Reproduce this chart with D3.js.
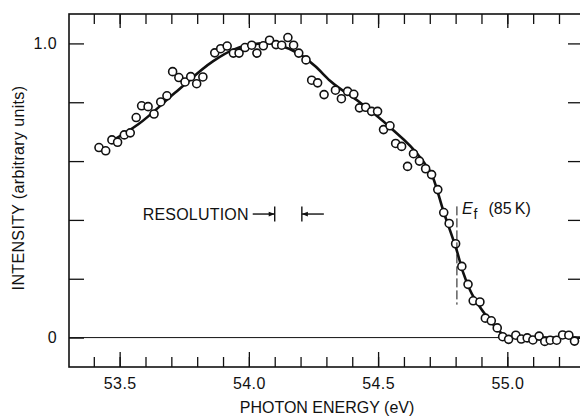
<!DOCTYPE html>
<html>
<head>
<meta charset="utf-8">
<script src="https://cdn.jsdelivr.net/npm/d3@7"></script>
<style>
  body { margin: 0; background: #fff; }
  text { font-family: "Liberation Sans", Arial, sans-serif; fill: #111; }
</style>
</head>
<body>
<div class="canvas"></div>
<script>
// measured spectrum (photon energy in eV, intensity in arbitrary units)
const energy = [
  53.420, 53.446, 53.470, 53.492, 53.518, 53.541, 53.564, 53.585, 53.610, 53.633,
  53.659, 53.683, 53.705, 53.729, 53.753, 53.775, 53.798, 53.822, 53.868, 53.891,
  53.916, 53.940, 53.962, 53.985, 54.011, 54.031, 54.056, 54.080, 54.105, 54.127,
  54.151, 54.173, 54.193, 54.221, 54.243, 54.266, 54.291, 54.335, 54.358, 54.382,
  54.406, 54.428, 54.452, 54.475, 54.498, 54.521, 54.546, 54.568, 54.591, 54.614,
  54.637, 54.660, 54.684, 54.707, 54.731, 54.754, 54.775, 54.800, 54.824, 54.848,
  54.868, 54.894, 54.915, 54.938, 54.961, 54.982, 55.005, 55.033, 55.054, 55.077,
  55.099, 55.123, 55.145, 55.166, 55.191, 55.214, 55.238, 55.260
];
const intensity = [
  0.646, 0.635, 0.672, 0.664, 0.689, 0.696, 0.748, 0.788, 0.785, 0.760,
  0.801, 0.822, 0.904, 0.884, 0.869, 0.887, 0.863, 0.886, 0.968, 0.982,
  0.991, 0.967, 0.967, 0.986, 0.994, 0.967, 0.992, 1.011, 0.996, 0.994,
  1.020, 0.994, 0.967, 0.944, 0.875, 0.866, 0.826, 0.841, 0.812, 0.837,
  0.827, 0.781, 0.783, 0.769, 0.769, 0.707, 0.720, 0.660, 0.650, 0.582,
  0.625, 0.600, 0.574, 0.554, 0.503, 0.425, 0.388, 0.319, 0.242, 0.181,
  0.125, 0.121, 0.066, 0.057, 0.033, 0.003, -0.006, 0.008, -0.005, -0.001,
  -0.008, 0.005, -0.013, -0.009, -0.009, 0.009, 0.008, -0.012
];

// fitted curve
const fitEnergy = [
  53.469, 53.572, 53.714, 53.862, 53.938, 54.004, 54.070, 54.120, 54.198, 54.256,
  54.314, 54.430, 54.546, 54.662, 54.712, 54.752, 54.804, 54.830, 54.856, 54.894,
  54.933, 54.972, 55.010, 55.100, 55.289
];
const fitIntensity = [
  0.668, 0.725, 0.832, 0.940, 0.978, 0.995, 1.001, 0.993, 0.963, 0.923,
  0.873, 0.799, 0.715, 0.613, 0.545, 0.432, 0.297, 0.219, 0.161, 0.104,
  0.058, 0.019, 0.002, 0.0, 0.0
];

const xTicksMajor = [53.5, 54.0, 54.5, 55.0];
const xTicksMinor = d3.range(53.4, 55.3, 0.1).map(d => +d.toFixed(1));
const yTicks = [0, 0.2, 0.4, 0.6, 0.8, 1.0];
const fermiEnergy = 54.805;
const fermiRange = [0.112, 0.446];
const resolution = [54.100, 54.205];
const resolutionLevel = 0.42;

const margin = { top: 14, right: -2, bottom: 49, left: 69 };
const width = 580 - margin.left - margin.right;
const height = 416 - margin.top - margin.bottom;

const svg = d3.select('.canvas')
  .append('svg')
    .attr('width', 580)
    .attr('height', 416)
    .style('display', 'block');

const graph = svg.append('g')
  .attr('transform', `translate(${margin.left}, ${margin.top})`);

const x = d3.scaleLinear().domain([53.304, 55.289]).range([0, width]);
const y = d3.scaleLinear().domain([-0.1, 1.1]).range([height, 0]);

// arrow heads
const defs = svg.append('defs');
defs.append('marker')
    .attr('id', 'head')
    .attr('viewBox', '0 0 10 10')
    .attr('refX', 10).attr('refY', 5)
    .attr('markerWidth', 7).attr('markerHeight', 6)
    .attr('markerUnits', 'userSpaceOnUse')
    .attr('orient', 'auto')
  .append('path')
    .attr('d', 'M0,1 L10,5 L0,9 Z')
    .attr('fill', '#111');

// frame
graph.append('rect')
  .attr('width', width).attr('height', height)
  .attr('fill', 'none').attr('stroke', '#111').attr('stroke-width', 1.6);

// zero line
graph.append('line')
  .attr('x1', 0).attr('x2', width)
  .attr('y1', y(0)).attr('y2', y(0))
  .attr('stroke', '#111').attr('stroke-width', 1);

// axes (ticks pointing inward)
const xBottom = graph.append('g').attr('class', 'x-axis')
  .attr('transform', `translate(0, ${height})`);
xBottom.call(d3.axisBottom(x).tickValues(xTicksMinor).tickSize(-10).tickFormat(''));
xBottom.call(g => g.append('g').call(d3.axisBottom(x).tickValues(xTicksMajor).tickSize(-15).tickPadding(11).tickFormat(d3.format('.1f'))));

const xTop = graph.append('g').attr('class', 'x-axis-top');
xTop.call(d3.axisTop(x).tickValues(xTicksMinor).tickSize(-10).tickFormat(''));
xTop.call(g => g.append('g').call(d3.axisTop(x).tickValues(xTicksMajor).tickSize(-14).tickFormat('')));

const yLeft = graph.append('g').attr('class', 'y-axis');
yLeft.call(d3.axisLeft(y).tickValues(yTicks).tickSize(-15).tickPadding(12)
  .tickFormat(d => d === 0 ? '0' : d === 1 ? '1.0' : ''));

const yRight = graph.append('g').attr('transform', `translate(${width}, 0)`);
yRight.call(d3.axisRight(y).tickValues(yTicks.slice(1)).tickSize(-14).tickFormat(''));

svg.selectAll('.domain').remove();
svg.selectAll('.tick line').attr('stroke', '#111').attr('stroke-width', 1.3);
svg.selectAll('.tick text')
  .attr('font-size', '16px')
  .attr('letter-spacing', '0.4px')
  .attr('fill', '#111');

// fitted line
const line = d3.line()
  .x(d => x(d[0]))
  .y(d => y(d[1]))
  .curve(d3.curveMonotoneX);

graph.append('path')
  .datum(d3.zip(fitEnergy, fitIntensity))
  .attr('fill', 'none')
  .attr('stroke', '#111')
  .attr('stroke-width', 2.6)
  .attr('d', line);

// data points
graph.selectAll('circle.pt')
  .data(d3.zip(energy, intensity))
  .enter().append('circle')
    .attr('class', 'pt')
    .attr('cx', d => x(d[0]))
    .attr('cy', d => y(d[1]))
    .attr('r', 4)
    .attr('fill', '#fff')
    .attr('stroke', '#111')
    .attr('stroke-width', 1.6);

// Fermi level marker
graph.append('line')
  .attr('x1', x(fermiEnergy)).attr('x2', x(fermiEnergy))
  .attr('y1', y(fermiRange[1])).attr('y2', y(fermiRange[0]))
  .attr('stroke', '#111').attr('stroke-width', 1)
  .attr('stroke-dasharray', '9,3');

const ef = graph.append('text')
  .attr('x', x(fermiEnergy) + 5)
  .attr('y', y(resolutionLevel))
  .attr('font-size', '16px');
ef.append('tspan').attr('font-style', 'italic').text('E');
ef.append('tspan').attr('font-size', '14px').attr('dy', 5).attr('dx', 1).text('f');
ef.append('tspan').attr('font-size', '16px').attr('dy', -5).attr('dx', 11).text('(85\u2009K)');

// resolution marker
const ry = y(resolutionLevel);
graph.append('text')
  .attr('x', x(resolution[0]) - 26)
  .attr('y', ry + 6)
  .attr('text-anchor', 'end')
  .attr('font-size', '16px')
  .attr('letter-spacing', '0.2px')
  .text('RESOLUTION');

graph.append('line')
  .attr('x1', x(resolution[0]) - 22).attr('x2', x(resolution[0]))
  .attr('y1', ry).attr('y2', ry)
  .attr('stroke', '#111').attr('stroke-width', 1.4)
  .attr('marker-end', 'url(#head)');
graph.append('line')
  .attr('x1', x(resolution[1]) + 22).attr('x2', x(resolution[1]))
  .attr('y1', ry).attr('y2', ry)
  .attr('stroke', '#111').attr('stroke-width', 1.4)
  .attr('marker-end', 'url(#head)');
graph.selectAll('line.bar')
  .data(resolution)
  .enter().append('line')
    .attr('class', 'bar')
    .attr('x1', d => x(d)).attr('x2', d => x(d))
    .attr('y1', ry - 7.5).attr('y2', ry + 7.5)
    .attr('stroke', '#111').attr('stroke-width', 1.4);

// axis titles
svg.append('text')
  .attr('x', 327)
  .attr('y', 413)
  .attr('text-anchor', 'middle')
  .attr('font-size', '16px')
  .text('PHOTON ENERGY (eV)');

svg.append('text')
  .attr('transform', 'translate(23.5, 188) rotate(-90)')
  .attr('text-anchor', 'middle')
  .attr('font-size', '16px')
  .attr('letter-spacing', '0.35px')
  .text('INTENSITY (arbitrary units)');
</script>
</body>
</html>
